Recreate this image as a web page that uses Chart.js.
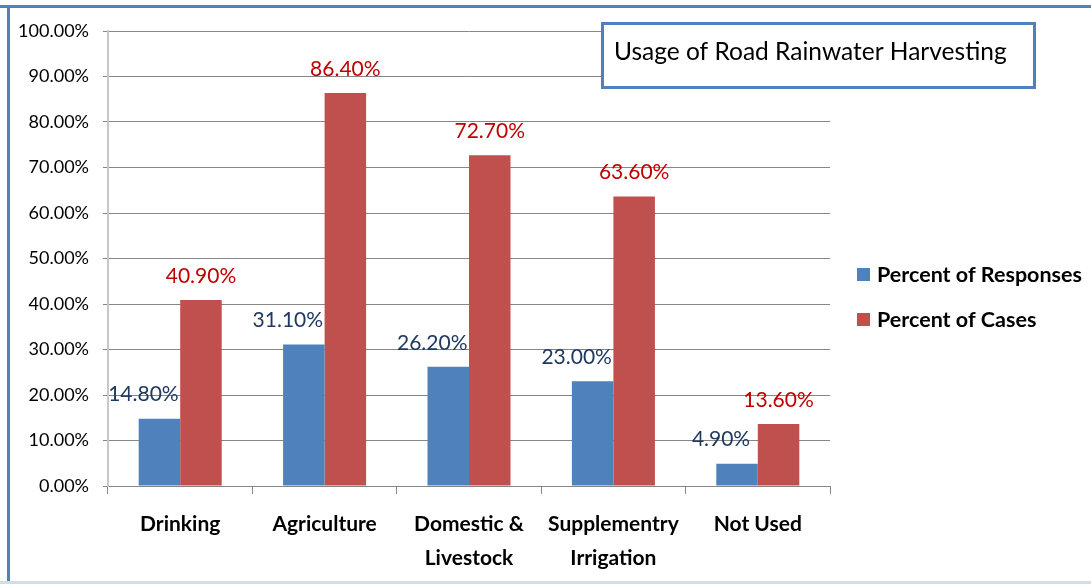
<!DOCTYPE html>
<html><head><meta charset="utf-8">
<script src="https://cdn.jsdelivr.net/npm/chart.js@4.4.0/dist/chart.umd.min.js"></script>
<style>html,body{margin:0;padding:0;background:#fff;overflow:hidden}canvas{display:block}</style>
</head><body>
<canvas id="c" width="1091" height="584"></canvas>
<script>
const categories = ['Drinking', 'Agriculture', ['Domestic &', 'Livestock'], ['Supplementry', 'Irrigation'], 'Not Used'];
const seriesNames = ['Percent of Responses', 'Percent of Cases'];
const responses = [14.8, 31.1, 26.2, 23.0, 4.9];
const cases = [40.9, 86.4, 72.7, 63.6, 13.6];
const titleText = 'Usage of Road Rainwater Harvesting';
const barColors = ['#4F81BD', '#C0504D'];
const labelColors = ['#1F3A60', '#C00000'];
const FONT = 'Lato, "Open Sans", sans-serif';

const deco = {
  id: 'deco',
  beforeDraw(chart) {
    const ctx = chart.ctx;
    ctx.save();
    ctx.fillStyle = '#fff';
    ctx.fillRect(0, 0, chart.width, chart.height);
    ctx.fillStyle = '#4F81BD';
    ctx.fillRect(0, 5, chart.width, 3);
    ctx.fillRect(7, 5, 3, chart.height);
    ctx.fillStyle = '#D4DCE6';
    ctx.fillRect(0, 581, chart.width, 3);
    ctx.restore();
  },
  afterDraw(chart) {
    const ctx = chart.ctx;
    ctx.save();
    // data labels
    ctx.font = '21px ' + FONT;
    ctx.textAlign = 'center';
    ctx.textBaseline = 'middle';
    [0, 1].forEach(di => {
      const meta = chart.getDatasetMeta(di);
      meta.data.forEach((bar, j) => {
        const v = chart.data.datasets[di].data[j];
        ctx.fillStyle = labelColors[di];
        const dx = di === 0 ? -16 : 0;
        ctx.fillText(v.toFixed(2) + '%', bar.x + dx, bar.y - 24);
      });
    });
    // title box
    ctx.fillStyle = '#fff';
    ctx.fillRect(602, 23, 433, 65);
    ctx.strokeStyle = '#4F81BD';
    ctx.lineWidth = 3;
    ctx.strokeRect(602.5, 23.5, 432, 64);
    ctx.fillStyle = '#000';
    ctx.font = '24.5px ' + FONT;
    ctx.textAlign = 'left';
    ctx.fillText(titleText, 614, 52);
    // legend
    ctx.font = 'bold 21.5px ' + FONT;
    seriesNames.forEach((n, i) => {
      const cy = 275 + i * 45;
      ctx.fillStyle = barColors[i];
      ctx.fillRect(857, cy - 7, 13, 13);
      ctx.fillStyle = '#000';
      ctx.fillText(n, 877, cy);
    });
    ctx.restore();
  }
};

new Chart(document.getElementById('c'), {
  type: 'bar',
  data: {
    labels: categories,
    datasets: [
      { label: seriesNames[0], data: responses, backgroundColor: barColors[0] },
      { label: seriesNames[1], data: cases, backgroundColor: barColors[1] }
    ]
  },
  options: {
    responsive: false,
    animation: false,
    devicePixelRatio: 1,
    layout: { padding: { left: 0, top: 31, right: 261, bottom: 0 } },
    datasets: { bar: { categoryPercentage: 0.575, barPercentage: 1.0 } },
    plugins: { legend: { display: false }, tooltip: { enabled: false }, title: { display: false } },
    scales: {
      x: {
        offset: true,
        grid: { display: true, drawOnChartArea: false, drawTicks: true, tickLength: 8, color: '#868686', offset: true },
        border: { display: true, color: '#868686', width: 1 },
        ticks: { color: '#000', font: { family: FONT, size: 21, weight: 'bold', lineHeight: 1.62 }, padding: 13, maxRotation: 0, autoSkip: false },
        afterFit(s) { s.height = 98; }
      },
      y: {
        min: 0, max: 100,
        ticks: { stepSize: 10, color: '#000', font: { family: FONT, size: 18 }, padding: 14,
          callback: v => v.toFixed(2) + '%' },
        grid: { color: '#868686', tickLength: 5, lineWidth: 1 },
        border: { display: true, color: '#C8C8C8', width: 2 },
        afterFit(s) { s.width = 108; }
      }
    }
  },
  plugins: [deco]
});
</script>
</body></html>
